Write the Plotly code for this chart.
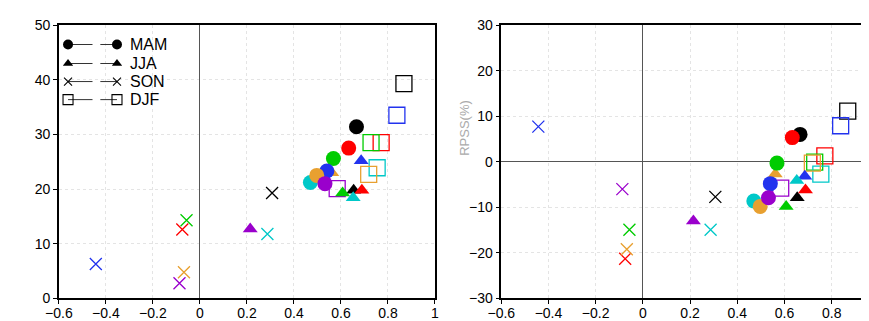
import plotly.graph_objects as go

W, H = 869, 321

model_colors = ["#000000", "#ff0000", "#00cc00", "#2233ee", "#00c8c8", "#e8a030", "#9a00cc"]

seasons = ["MAM", "JJA", "SON", "DJF"]

mam_x = [0.666, 0.633, 0.568, 0.540, 0.470, 0.497, 0.532]
mam_left = [31.4, 27.5, 25.6, 23.3, 21.2, 22.5, 21.0]
mam_right = [6.0, 5.3, -0.3, -4.8, -8.6, -9.8, -7.9]

jja_x = [0.654, 0.689, 0.607, 0.686, 0.652, 0.561, 0.214]
jja_left = [19.8, 19.8, 19.3, 25.2, 18.4, 23.0, 12.7]
jja_right = [-7.9, -6.2, -9.8, -3.2, -4.1, -2.7, -13.0]

son_x = [0.307, -0.075, -0.057, -0.443, 0.287, -0.068, -0.087]
son_left = [19.3, 12.6, 14.3, 6.3, 11.8, 4.8, 2.8]
son_right = [-7.7, -21.3, -14.9, 7.7, -14.9, -19.2, -6.0]

djf_x = [0.868, 0.771, 0.728, 0.838, 0.754, 0.718, 0.584]
djf_left = [39.3, 28.5, 28.5, 33.5, 23.9, 22.7, 20.1]
djf_right = [11.1, 1.3, -0.1, 7.9, -2.7, -0.3, -5.8]

left_yticks = [0, 10, 20, 30, 40, 50]
right_yticks = [-30, -20, -10, 0, 10, 20, 30]
left_xticks = [-0.6, -0.4, -0.2, 0, 0.2, 0.4, 0.6, 0.8, 1]
right_xticks = [-0.6, -0.4, -0.2, 0, 0.2, 0.4, 0.6, 0.8]

def fmt(v):
    s = ("%g" % v)
    return s.replace("-", "\u2212")

marker_style = {
    "MAM": dict(symbol="circle", size=15, line=dict(width=0)),
    "JJA": dict(symbol="triangle-up", size=13, line=dict(width=0)),
    "SON": dict(symbol="x-thin-open", size=12, line=dict(width=1.3)),
    "DJF": dict(symbol="square-open", size=16, line=dict(width=1.3)),
}

data = {
    "DJF": (djf_x, djf_left, djf_right),
    "SON": (son_x, son_left, son_right),
    "JJA": (jja_x, jja_left, jja_right),
    "MAM": (mam_x, mam_left, mam_right),
}

fig = go.Figure()

for season in ["DJF", "SON", "JJA", "MAM"]:
    xs, yl, yr = data[season]
    st = marker_style[season]
    for panel, ys, xa, ya in [("L", yl, "x", "y"), ("R", yr, "x2", "y2")]:
        fig.add_trace(go.Scatter(
            x=xs, y=ys, mode="markers", xaxis=xa, yaxis=ya, showlegend=False,
            marker=dict(symbol=st["symbol"], size=st["size"], color=model_colors,
                        line=dict(width=st["line"]["width"], color=model_colors)),
            hoverinfo="skip"))

# Legend drawn on an overlay axis in pixel units of the left panel
leg_rows = [30, 50, 69, 88]
leg_sym = [("circle", 10, 0), ("triangle-up", 9, 0), ("x-thin-open", 8, 1.1), ("square-open", 10, 1.1)]
for season, yrow, (sym, sz, lw) in zip(seasons, leg_rows, leg_sym):
    fig.add_trace(go.Scatter(x=[47, 72], y=[yrow, yrow], mode="lines", xaxis="x3", yaxis="y3",
                             line=dict(color="#333333", width=1), showlegend=False, hoverinfo="skip"))
    fig.add_trace(go.Scatter(x=[80, 97], y=[yrow, yrow], mode="lines", xaxis="x3", yaxis="y3",
                             line=dict(color="#333333", width=1), showlegend=False, hoverinfo="skip"))
    fig.add_trace(go.Scatter(x=[47, 97], y=[yrow, yrow], mode="markers", xaxis="x3", yaxis="y3",
                             marker=dict(symbol=sym, size=sz, color="black", line=dict(width=lw, color="black")),
                             showlegend=False, hoverinfo="skip"))
    fig.add_annotation(x=108, y=yrow, xref="x3", yref="y3", text=season, showarrow=False,
                       xanchor="left", yanchor="middle",
                       font=dict(size=16, color="black", family="Liberation Sans, Arial"))

ydom = [(H - 297.3) / H, (H - 9.5) / H]
tickfont = dict(size=14, color="black", family="Liberation Sans, Arial")

common = dict(showline=True, linecolor="black", linewidth=1.5, ticks="outside", ticklen=4,
              tickcolor="black", tickfont=tickfont, showgrid=True, gridcolor="#e4e4e4",
              griddash="dot", gridwidth=1)

fig.update_layout(
    width=W, height=H, margin=dict(l=0, r=0, t=0, b=0),
    paper_bgcolor="white", plot_bgcolor="white",
    xaxis=dict(domain=[37.7 / W, 421.7 / W], range=[-0.6, 1], tickvals=left_xticks,
               ticktext=[fmt(v) for v in left_xticks], mirror=True, zeroline=True,
               zerolinecolor="#555555", zerolinewidth=1, anchor="y", ticklabelstandoff=-3,
               **common),
    yaxis=dict(domain=ydom, range=[0, 50], tickvals=left_yticks,
               ticktext=[fmt(v) for v in left_yticks], mirror=True, zeroline=False,
               anchor="x", **common),
    xaxis2=dict(domain=[489.4 / W, 1.0], range=[-0.6, 0.975], tickvals=right_xticks,
                ticktext=[fmt(v) for v in right_xticks], mirror=True, zeroline=True,
                zerolinecolor="#555555", zerolinewidth=1, anchor="y2", ticklabelstandoff=-3,
                **common),
    yaxis2=dict(domain=ydom, range=[-30, 30], tickvals=right_yticks,
                ticktext=[fmt(v) for v in right_yticks], mirror=False, zeroline=True,
                zerolinecolor="#555555", zerolinewidth=1, anchor="x2", **common),
    xaxis3=dict(domain=[37.7 / W, 421.7 / W], range=[37.7, 421.7], visible=False,
                overlaying="x", anchor="y3", fixedrange=True),
    yaxis3=dict(domain=ydom, range=[297.3, 9.5], visible=False, overlaying="y",
                anchor="x3", fixedrange=True),
    annotations=list(fig.layout.annotations) + [
        dict(x=451 / W, y=1 - 118 / H, xref="paper", yref="paper", text="RPSS(%)",
             textangle=-90, showarrow=False, xanchor="center", yanchor="middle",
             font=dict(size=13, color="#aaaaaa", family="Liberation Sans, Arial"))
    ],
)

fig.write_html("out.html")
